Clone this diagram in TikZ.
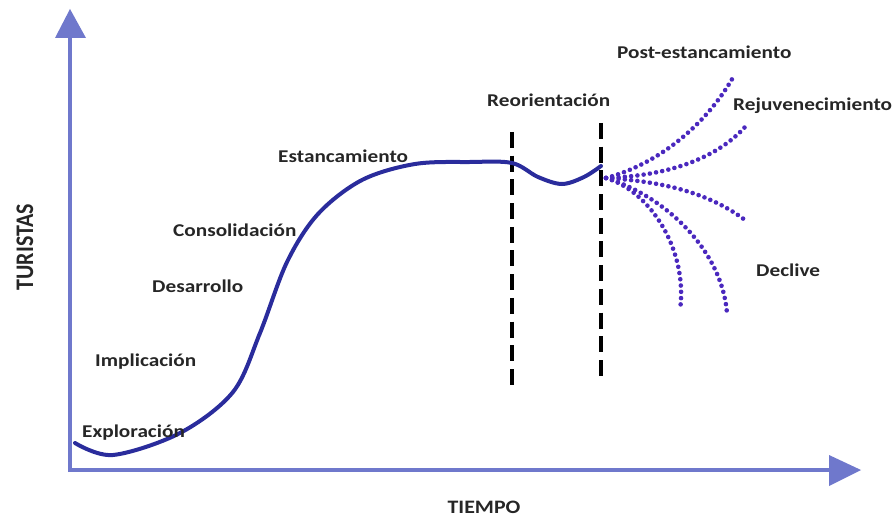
\documentclass[tikz,border=0pt]{standalone}
\usepackage{fontspec}
\setmainfont{Carlito}
\begin{document}
\begin{tikzpicture}[x=1pt,y=-1pt,
  axisline/.style={draw=axisblue,line width=4pt},
  axishead/.style={fill=axisblue},
  lifecurve/.style={draw=curveblue,line width=4pt,line cap=round},
  phase/.style={font=\fontsize{18}{20}\selectfont\bfseries,text=labelgray,inner sep=0pt,anchor=west,xscale=1.18},
  axislabel/.style={font=\fontsize{#1}{20}\selectfont\bfseries,text=labelgray,inner sep=0pt,xscale=1.15},
  divider/.style={draw=black,line width=4.5pt,dash pattern=on 16pt off 7.7pt},
  scenario/.style={draw=dotpurple,line width=4.6pt,line cap=round,dash pattern=on 0pt off 6.3pt}]
\definecolor{axisblue}{HTML}{6F78CC}
\definecolor{curveblue}{HTML}{2A2C9C}
\definecolor{dotpurple}{HTML}{4A28BE}
\definecolor{labelgray}{HTML}{262626}
\useasboundingbox (0,0) rectangle (893,518);

% axes
\coordinate (ytop) at (70,38);
\coordinate (xend) at (830,470);
\draw[axisline] (70,472) -- (ytop);
\draw[axisline] (68,470) -- (xend);
\fill[axishead] (55,38) -- (70,9) -- (86,38) -- cycle;
\fill[axishead] (829,455) -- (861,470) -- (829,486) -- cycle;

\node[axislabel=22,rotate=90] (yl) at (25,247) {TURISTAS};
\node[axislabel=19] (xl) at (484,507) {TIEMPO};

% dividers of the reorientation phase (11 dashes each)
\draw[divider] (512,132) -- (512,385);
\draw[divider] (601,123) -- (601,376);

% tourism area life cycle curve
\draw[lifecurve] plot[smooth,tension=0.55] coordinates {
  (75,443) (113,455) (180,433) (233,392) (260,333) (287,262) (318,214)
  (362,180) (415,164) (470,162) (512,163) (538,177) (562,184) (584,177) (601,166)};

% possible future scenarios
\coordinate (fan) at (606,178);
\draw[scenario] (fan) .. controls (655,165) and (705,128) .. (735,74);
\draw[scenario] (fan) .. controls (665,176) and (715,160) .. (745,127);
\draw[scenario] (fan) .. controls (655,181) and (705,190) .. (745,220);
\draw[scenario] (fan) .. controls (665,196) and (722,250) .. (727,313);
\draw[scenario] (fan) .. controls (652,192) and (688,252) .. (680,310);

% phase labels
\node[phase] (p1) at (82,433) {Exploración};
\node[phase] (p2) at (95,362) {Implicación};
\node[phase] (p3) at (152,286) {Desarrollo};
\node[phase] (p4) at (173,230) {Consolidación};
\node[phase] (p5) at (278,156) {Estancamiento};
\node[phase] (p6) at (487,100) {Reorientación};
\node[phase] (p7) at (617,52) {Post-estancamiento};
\node[phase] (p8) at (733,106) {Rejuvenecimiento};
\node[phase] (p9) at (756,270) {Declive};
\end{tikzpicture}
\end{document}
